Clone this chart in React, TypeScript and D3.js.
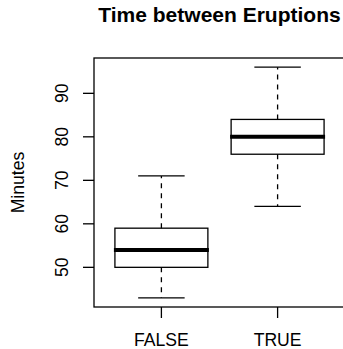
import React from "react";
import * as d3 from "d3";

// Boxplot stats (minutes)
const groups = ["FALSE", "TRUE"];
const lowerWhisker = [43, 64];
const q1 = [50, 76];
const median = [54, 80];
const q3 = [59, 84];
const upperWhisker = [71, 96];
const yTicks = [50, 60, 70, 80, 90];

const W = 343;
const H = 349;
const plot = { left: 94, right: 345, top: 58, bottom: 307 };
const font = "'Liberation Sans', Arial, Helvetica, sans-serif";
const axisSize = 17.6;

const App = () => {
  const dataMin = d3.min(lowerWhisker) as number;
  const dataMax = d3.max(upperWhisker) as number;
  const pad = (dataMax - dataMin) * 0.04;

  const y = d3
    .scaleLinear()
    .domain([dataMin - pad, dataMax + pad])
    .range([plot.bottom, plot.top]);

  // R style: positions 1..n, xlim 0.5..n+0.5 extended by 4%
  const xr = groups.length;
  const xpad = xr * 0.04;
  const x = d3
    .scaleLinear()
    .domain([0.5 - xpad, xr + 0.5 + xpad])
    .range([plot.left, plot.right]);

  const boxHalf = x(1.4) - x(1);
  const capHalf = boxHalf / 2;
  const lw = 1.3;

  return (
    <svg
      width={W}
      height={H}
      style={{ position: "absolute", left: 0, top: 0, background: "#fff" }}
      fontFamily={font}
    >
      <rect x={0} y={0} width={W} height={H} fill="#fff" />

      {/* title */}
      <text
        x={(plot.left + plot.right) / 2}
        y={22}
        textAnchor="middle"
        fontSize={21}
        fontWeight="bold"
        fill="#000"
      >
        Time between Eruptions
      </text>

      {/* boxes */}
      {groups.map((g, i) => {
        const cx = x(i + 1);
        return (
          <g key={g}>
            {/* whiskers drawn from the box outwards, like R */}
            <line
              x1={cx}
              x2={cx}
              y1={y(q3[i])}
              y2={y(upperWhisker[i])}
              stroke="#000"
              strokeWidth={lw}
              strokeDasharray="5,5"
            />
            <line
              x1={cx}
              x2={cx}
              y1={y(q1[i])}
              y2={y(lowerWhisker[i])}
              stroke="#000"
              strokeWidth={lw}
              strokeDasharray="5,5"
            />
            <line
              x1={cx - capHalf}
              x2={cx + capHalf}
              y1={y(upperWhisker[i])}
              y2={y(upperWhisker[i])}
              stroke="#000"
              strokeWidth={lw}
            />
            <line
              x1={cx - capHalf}
              x2={cx + capHalf}
              y1={y(lowerWhisker[i])}
              y2={y(lowerWhisker[i])}
              stroke="#000"
              strokeWidth={lw}
            />
            <rect
              x={cx - boxHalf}
              y={y(q3[i])}
              width={boxHalf * 2}
              height={y(q1[i]) - y(q3[i])}
              fill="none"
              stroke="#000"
              strokeWidth={lw}
            />
            <line
              x1={cx - boxHalf - 1}
              x2={cx + boxHalf + 1}
              y1={y(median[i])}
              y2={y(median[i])}
              stroke="#000"
              strokeWidth={4}
            />
          </g>
        );
      })}

      {/* plot frame */}
      <rect
        x={plot.left}
        y={plot.top}
        width={plot.right - plot.left}
        height={plot.bottom - plot.top}
        fill="none"
        stroke="#000"
        strokeWidth={lw}
      />

      {/* y axis */}
      {yTicks.map((t) => (
        <g key={t}>
          <line
            x1={plot.left - 11}
            x2={plot.left}
            y1={y(t)}
            y2={y(t)}
            stroke="#000"
            strokeWidth={lw}
          />
          <text
            transform={`translate(68,${y(t)}) rotate(-90)`}
            textAnchor="middle"
            fontSize={axisSize}
            fill="#000"
          >
            {t}
          </text>
        </g>
      ))}
      <text
        transform={`translate(24,${(plot.top + plot.bottom) / 2}) rotate(-90)`}
        textAnchor="middle"
        fontSize={axisSize}
        fill="#000"
      >
        Minutes
      </text>

      {/* x axis */}
      {groups.map((g, i) => (
        <g key={g}>
          <line
            x1={x(i + 1)}
            x2={x(i + 1)}
            y1={plot.bottom}
            y2={plot.bottom + 11}
            stroke="#000"
            strokeWidth={lw}
          />
          <text
            x={x(i + 1)}
            y={346}
            textAnchor="middle"
            fontSize={axisSize}
            fill="#000"
          >
            {g}
          </text>
        </g>
      ))}
    </svg>
  );
};

export default App;
